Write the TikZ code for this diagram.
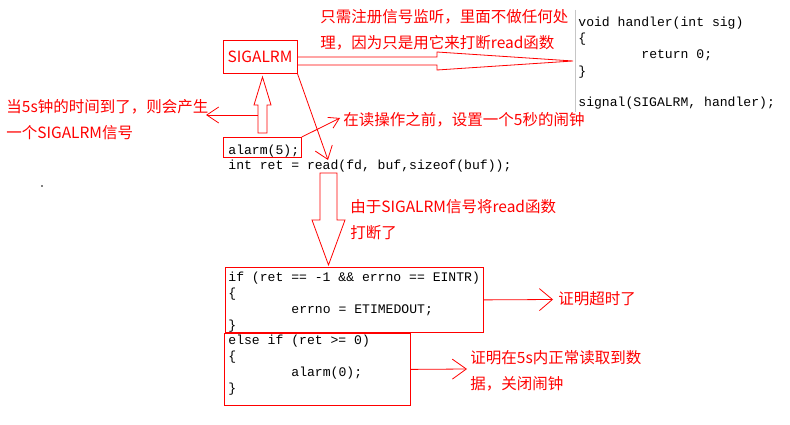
\documentclass[tikz,border=0pt]{standalone}
\usepackage{fontspec}
\setmonofont{Liberation Mono}
\newfontfamily\cjk{Noto Sans CJK SC}
\usetikzlibrary{arrows.meta}

\begin{document}
\begin{tikzpicture}[x=1pt, y=-1pt, line width=0.8pt,
    note/.style={text=red, font=\cjk\fontsize{15.5}{26}\selectfont, anchor=base west, align=left, inner sep=0pt},
    code/.style={font=\ttfamily\fontsize{13.1}{16}\selectfont, anchor=base west, align=left, inner sep=0pt},
    redbox/.style={draw=red, inner sep=0pt, anchor=north west},
    barb/.style={red, -{Straight Barb[length=12pt, width=18pt]}},
    hollow/.style={draw=red, line join=miter}]
    \useasboundingbox (0,0) rectangle (790,425);

    % signal and handler (multi-line nodes sit on their last baseline)
    \node[redbox, anchor=center, minimum width=74pt, minimum height=33pt, text=red, font=\cjk\fontsize{15.5}{18}\selectfont] (sig) at (260,56.5) {SIGALRM};
    \draw[gray!45] (575,10) -- (575,112);
    \node[code] (handler) at (578,107) {void handler(int sig)\\\{\\\hspace*{63pt}return 0;\\\}\\[16pt]signal(SIGALRM, handler);};
    \node[note] (regnote) at (320,49) {只需注册信号监听，里面不做任何处\\理，因为只是用它来打断read函数};
    \draw[hollow] (297,57) -- (437,57) -- (437,52) -- (573,61) -- (437,70) -- (437,65) -- (297,65);

    % alarm and read
    \node[redbox, minimum width=78pt, minimum height=20pt] (alarmbox) at (223,137) {};
    \node[code] (alarm) at (228,154) {alarm(5);};
    \node[code] (readline) at (228,169) {int ret = read(fd, buf,sizeof(buf));};
    \draw[hollow] (258,133) -- (258,105) -- (254,105) -- (262.5,77) -- (271,105) -- (267,105) -- (267,133) -- cycle;
    \node[note] (firenote) at (6,139) {当5s钟的时间到了，则会产生\\一个SIGALRM信号};
    \node[note] (beforenote) at (343,126) {在读操作之前，设置一个5秒的闹钟};
    \coordinate (uptail) at (258,115);
    \coordinate (firetip) at (206,115);
    \coordinate (beforetip) at (340,118);
    \coordinate (readtip) at (328,160);
    \draw[barb, -{Straight Barb[length=12pt, width=16pt]}] (uptail) -- (firetip);
    \draw[barb, -{Straight Barb[length=10pt, width=12pt]}] (alarmbox.north east) -- (beforetip);
    \draw[barb] (sig.south east) -- (readtip);
    \fill (42,186) circle (0.8);

    % interrupted read
    \draw[hollow] (320,173) -- (320,220) -- (312,220) -- (328.5,265) -- (345,220) -- (337,220) -- (337,173) -- cycle;
    \node[note] (intrnote) at (350,238) {由于SIGALRM信号将read函数\\打断了};

    % result checks
    \node[redbox, minimum width=258pt, minimum height=65pt] (ifbox) at (225,267) {};
    \node[code] (ifcode) at (228,329) {if (ret == -1 \&\& errno == EINTR)\\\{\\\hspace*{63pt}errno = ETIMEDOUT;\\\}};
    \node[redbox, minimum width=186pt, minimum height=72pt] (elsebox) at (224,333) {};
    \node[code] (elsecode) at (228,392) {else if (ret >= 0)\\\{\\\hspace*{63pt}alarm(0);\\\}};
    \node[note] (timeoutnote) at (558,304) {证明超时了};
    \node[note] (oknote) at (470,389) {证明在5s内正常读取到数\\据，关闭闹钟};
    \coordinate (timeouttip) at (553,299.5);
    \coordinate (oktip) at (467,369);
    \draw[barb, -{Straight Barb[length=13pt, width=22pt]}] (ifbox.east) -- (timeouttip);
    \draw[barb, -{Straight Barb[length=14pt, width=20pt]}] (elsebox.east) -- (oktip);
\end{tikzpicture}
\end{document}
